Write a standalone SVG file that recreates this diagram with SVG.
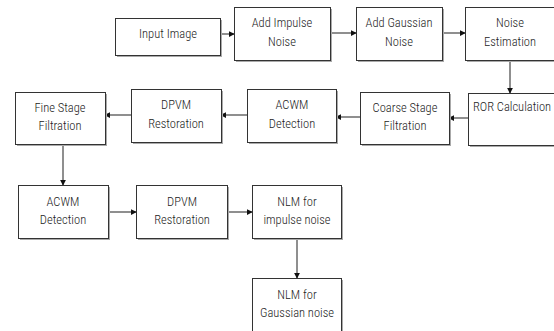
<svg xmlns="http://www.w3.org/2000/svg" width="554" height="331" viewBox="0 0 554 331">
<defs>
<style>
.box{fill:#fff;stroke:#333;stroke-width:1}
.sh{fill:#aaa}
.t{font-family:"Liberation Sans Narrow","Roboto Condensed","Liberation Sans",sans-serif;font-size:12.5px;font-weight:300;fill:#222;text-anchor:middle}
.c{stroke:#333;stroke-width:1.1;fill:none;marker-end:url(#ah)}
</style>
<marker id="ah" viewBox="0 0 8 8" refX="7" refY="4" markerWidth="6" markerHeight="6" markerUnits="userSpaceOnUse" orient="auto">
<path d="M0,0 L8,4 L0,8 Z" fill="#111"/>
</marker>
</defs>
<rect width="554" height="331" fill="#fff"/>
<g id="connectors">
<line class="c" x1="220" y1="34" x2="234" y2="34"/>
<line class="c" x1="330" y1="33" x2="356" y2="33"/>
<line class="c" x1="442" y1="33" x2="465" y2="33"/>
<line class="c" x1="510" y1="60" x2="510" y2="93"/>
<line class="c" x1="468" y1="118" x2="449" y2="118"/>
<line class="c" x1="360" y1="117" x2="336" y2="117"/>
<line class="c" x1="247" y1="115" x2="221" y2="115"/>
<line class="c" x1="131" y1="115" x2="105" y2="115"/>
<line class="c" x1="63" y1="144" x2="63" y2="185"/>
<line class="c" x1="108" y1="212" x2="136" y2="212"/>
<line class="c" x1="227" y1="212" x2="252" y2="212"/>
<line class="c" x1="297" y1="239" x2="297" y2="278"/>
</g>
<g id="input-image">
<rect class="sh" x="117" y="20" width="105" height="37"/>
<rect class="box" x="115.5" y="18.5" width="105" height="37"/>
<text class="t" x="168" y="38">Input Image</text>
</g>
<g id="add-impulse">
<rect class="sh" x="236" y="9" width="96" height="53"/>
<rect class="box" x="234.5" y="7.5" width="96" height="53"/>
<text class="t" x="282" y="27">Add Impulse</text>
<text class="t" x="282" y="46">Noise</text>
</g>
<g id="add-gaussian">
<rect class="sh" x="358" y="9" width="86" height="53"/>
<rect class="box" x="356.5" y="7.5" width="86" height="53"/>
<text class="t" x="399" y="27">Add Gaussian</text>
<text class="t" x="399" y="46">Noise</text>
</g>
<g id="noise-estimation">
<rect class="sh" x="467" y="9" width="90" height="53"/>
<rect class="box" x="465.5" y="7.5" width="90" height="53"/>
<text class="t" x="510" y="27">Noise</text>
<text class="t" x="510" y="46">Estimation</text>
</g>
<g id="ror-calculation">
<rect class="sh" x="470" y="95" width="90" height="52"/>
<rect class="box" x="468.5" y="93.5" width="90" height="52"/>
<text class="t" x="512" y="111">ROR Calculation</text>
</g>
<g id="coarse-stage">
<rect class="sh" x="362" y="94" width="89" height="52"/>
<rect class="box" x="360.5" y="92.5" width="89" height="52"/>
<text class="t" x="405" y="112">Coarse Stage</text>
<text class="t" x="405" y="130">Filtration</text>
</g>
<g id="acwm-detection-1">
<rect class="sh" x="249" y="91" width="89" height="53"/>
<rect class="box" x="247.5" y="89.5" width="89" height="53"/>
<text class="t" x="292" y="109">ACWM</text>
<text class="t" x="292" y="128">Detection</text>
</g>
<g id="dpvm-restoration-1">
<rect class="sh" x="133" y="91" width="90" height="53"/>
<rect class="box" x="131.5" y="89.5" width="90" height="53"/>
<text class="t" x="176" y="109">DPVM</text>
<text class="t" x="176" y="128">Restoration</text>
</g>
<g id="fine-stage">
<rect class="sh" x="17" y="94" width="90" height="52"/>
<rect class="box" x="15.5" y="92.5" width="90" height="52"/>
<text class="t" x="60" y="112">Fine Stage</text>
<text class="t" x="60" y="130">Filtration</text>
</g>
<g id="acwm-detection-2">
<rect class="sh" x="20" y="187" width="90" height="53"/>
<rect class="box" x="18.5" y="185.5" width="90" height="53"/>
<text class="t" x="63" y="206">ACWM</text>
<text class="t" x="63" y="224">Detection</text>
</g>
<g id="dpvm-restoration-2">
<rect class="sh" x="138" y="187" width="91" height="53"/>
<rect class="box" x="136.5" y="185.5" width="91" height="53"/>
<text class="t" x="182" y="206">DPVM</text>
<text class="t" x="182" y="224">Restoration</text>
</g>
<g id="nlm-impulse">
<rect class="sh" x="254" y="187" width="89" height="53"/>
<rect class="box" x="252.5" y="185.5" width="89" height="53"/>
<text class="t" x="297" y="206">NLM for</text>
<text class="t" x="297" y="224">impulse noise</text>
</g>
<g id="nlm-gaussian">
<rect class="sh" x="254" y="280" width="89" height="56"/>
<rect class="box" x="252.5" y="278.5" width="89" height="56"/>
<text class="t" x="297" y="299">NLM for</text>
<text class="t" x="297" y="317">Gaussian noise</text>
</g>
</svg>
